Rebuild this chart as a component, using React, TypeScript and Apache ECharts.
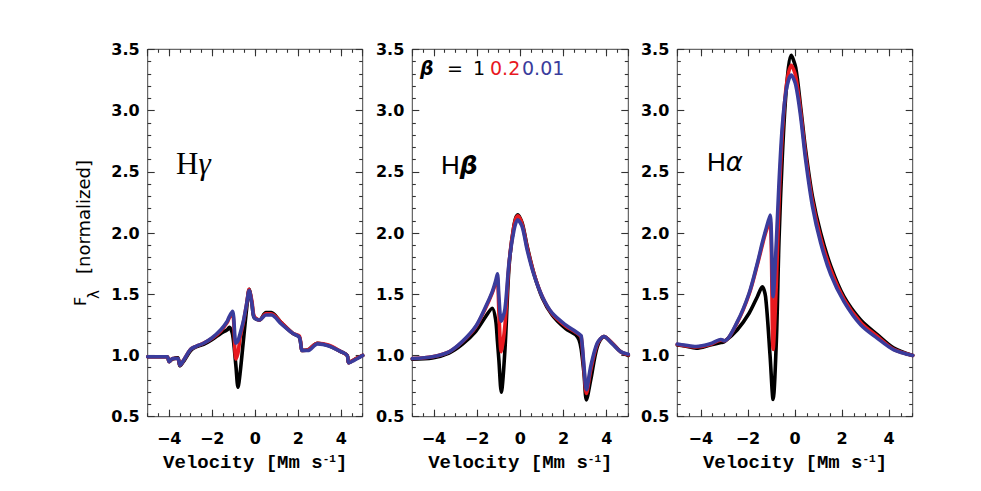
import React, { useEffect, useRef } from 'react';
import * as echarts from 'echarts';

// ---- H gamma ----
const hgVel = [-5, -4.1, -4.0, -3.85, -3.6, -3.5, -3.3, -3.0, -2.75, -2.4, -2.0, -1.6, -1.3, -1.2, -1.05, -0.9, -0.8, -0.7, -0.55, -0.4, -0.28, -0.15, -0.05, 0.2, 0.5, 0.75, 1.2, 1.75, 2.05, 2.2, 2.45, 2.9, 3.4, 4.0, 4.28, 4.35, 4.6, 5.0];
const hgBeta1 = [0.99, 0.99, 0.95, 0.97, 0.98, 0.915, 0.96, 1.04, 1.07, 1.09, 1.13, 1.18, 1.21, 1.23, 1.17, 0.92, 0.74, 0.86, 1.12, 1.38, 1.54, 1.42, 1.31, 1.29, 1.35, 1.35, 1.27, 1.18, 1.15, 1.04, 1.045, 1.10, 1.08, 1.03, 1.0, 0.94, 0.965, 1.0];
const hgBeta02 = [0.99, 0.99, 0.95, 0.975, 0.975, 0.92, 0.97, 1.05, 1.075, 1.10, 1.14, 1.20, 1.27, 1.31, 1.34, 0.97, 1.02, 1.15, 1.27, 1.42, 1.54, 1.44, 1.32, 1.29, 1.34, 1.34, 1.27, 1.18, 1.16, 1.04, 1.045, 1.10, 1.085, 1.03, 1.0, 0.94, 0.965, 1.0];
const hgBeta001 = [0.99, 0.99, 0.95, 0.975, 0.975, 0.92, 0.97, 1.05, 1.075, 1.10, 1.145, 1.21, 1.28, 1.32, 1.36, 1.10, 1.12, 1.18, 1.28, 1.42, 1.53, 1.42, 1.31, 1.29, 1.33, 1.33, 1.26, 1.18, 1.15, 1.04, 1.04, 1.095, 1.08, 1.03, 1.0, 0.94, 0.96, 1.0];

// ---- H beta ----
const hbVel = [-5, -4.07, -3.3, -2.69, -2.07, -1.6, -1.3, -1.14, -1.06, -0.99, -0.88, -0.71, -0.52, -0.29, -0.12, 0.09, 0.32, 0.63, 1.02, 1.48, 2.1, 2.56, 2.72, 2.82, 2.95, 3.06, 3.26, 3.56, 3.87, 4.26, 4.65, 5.0];
const hbBeta1 = [0.97, 0.98, 1.02, 1.09, 1.195, 1.318, 1.386, 1.29, 1.12, 0.96, 0.70, 1.05, 1.726, 2.066, 2.148, 2.08, 1.89, 1.67, 1.47, 1.33, 1.22, 1.17, 1.127, 1.05, 0.85, 0.637, 0.80, 1.07, 1.154, 1.10, 1.03, 1.0];
const hbBeta02 = [0.975, 0.99, 1.03, 1.11, 1.23, 1.39, 1.51, 1.59, 1.64, 1.35, 1.03, 1.25, 1.75, 2.06, 2.14, 2.07, 1.88, 1.67, 1.48, 1.34, 1.24, 1.19, 1.17, 1.15, 0.88, 0.69, 0.88, 1.09, 1.155, 1.10, 1.03, 1.005];
const hbBeta001 = [0.975, 0.99, 1.03, 1.113, 1.236, 1.40, 1.52, 1.61, 1.666, 1.48, 1.28, 1.38, 1.76, 2.025, 2.107, 2.05, 1.86, 1.66, 1.48, 1.345, 1.25, 1.195, 1.175, 1.16, 0.91, 0.72, 0.91, 1.10, 1.155, 1.095, 1.03, 1.01];

// ---- H alpha ----
const haVel = [-5, -4.7, -4.2, -3.6, -3.15, -3.0, -2.45, -1.95, -1.6, -1.39, -1.25, -1.06, -0.93, -0.79, -0.68, -0.54, -0.37, -0.16, 0.03, 0.24, 0.45, 0.74, 1.09, 1.52, 2.08, 2.79, 3.5, 4.2, 5.0];
const haBeta1 = [1.086, 1.078, 1.06, 1.085, 1.105, 1.113, 1.21, 1.345, 1.48, 1.56, 1.48, 1.0, 0.64, 1.13, 1.94, 2.62, 3.17, 3.45, 3.35, 3.03, 2.68, 2.30, 2.0, 1.73, 1.48, 1.29, 1.17, 1.06, 1.0];
const haBeta02 = [1.09, 1.08, 1.07, 1.09, 1.125, 1.12, 1.27, 1.50, 1.74, 1.90, 2.0, 2.10, 1.05, 1.6, 2.25, 2.8, 3.2, 3.37, 3.28, 2.99, 2.64, 2.26, 1.96, 1.70, 1.46, 1.27, 1.155, 1.05, 1.0];
const haBeta001 = [1.094, 1.085, 1.073, 1.095, 1.13, 1.12, 1.276, 1.508, 1.753, 1.92, 2.02, 2.147, 1.48, 1.94, 2.41, 2.87, 3.17, 3.29, 3.21, 2.95, 2.60, 2.22, 1.92, 1.66, 1.44, 1.25, 1.14, 1.045, 1.0];

const velRange = [-5, 5];
const fluxRange = [0.5, 3.5];
const lineNames = ['β = 1', 'β = 0.2', 'β = 0.01'];
const lineColors = ['#000000', '#e8191f', '#3a3c9c'];

const panels = [
  { vel: hgVel, lines: [hgBeta1, hgBeta02, hgBeta001], left: 147.7, width: 215 },
  { vel: hbVel, lines: [hbBeta1, hbBeta02, hbBeta001], left: 412.3, width: 216 },
  { vel: haVel, lines: [haBeta1, haBeta02, haBeta001], left: 677.3, width: 235.4 },
];

const TOP = 49.3;
const HEIGHT = 367.4;
const TICK_COLOR = '#333';
const NUM_FONT = 'DejaVu Sans';

function buildOption() {
  const grid: any[] = [];
  const xAxis: any[] = [];
  const yAxis: any[] = [];
  const series: any[] = [];
  const graphic: any[] = [];

  const tickStyle = { color: TICK_COLOR, width: 1.1 };

  panels.forEach((p, i) => {
    grid.push({
      left: p.left, top: TOP, width: p.width, height: HEIGHT,
      show: true, borderColor: '#444', borderWidth: 1, backgroundColor: 'transparent',
    });
    const baseX = {
      gridIndex: i, type: 'value', min: velRange[0], max: velRange[1],
      axisLine: { show: false, onZero: false }, splitLine: { show: false },
    };
    xAxis.push({
      ...baseX, position: 'bottom', splitNumber: 5,
      axisTick: { show: true, inside: true, length: 7, lineStyle: tickStyle },
      axisLabel: {
        show: true, showMinLabel: false, showMaxLabel: false, margin: 14,
        fontFamily: NUM_FONT, fontSize: 16, fontWeight: 'bold', color: '#000',
        formatter: (v: number) => String(v).replace('-', '\u2212'),
      },
    });
    xAxis.push({
      ...baseX, position: 'bottom', interval: 0.5,
      axisTick: { show: true, inside: true, length: 3.5, lineStyle: tickStyle },
      axisLabel: { show: false },
    });
    xAxis.push({
      ...baseX, position: 'top', splitNumber: 5,
      axisTick: { show: true, inside: true, length: 7, lineStyle: tickStyle },
      axisLabel: { show: false },
    });
    xAxis.push({
      ...baseX, position: 'top', interval: 0.5,
      axisTick: { show: true, inside: true, length: 3.5, lineStyle: tickStyle },
      axisLabel: { show: false },
    });
    const baseY = {
      gridIndex: i, type: 'value', min: fluxRange[0], max: fluxRange[1], interval: 0.5,
      axisLine: { show: false, onZero: false }, splitLine: { show: false },
      axisTick: { show: true, inside: true, length: 7, lineStyle: tickStyle },
      minorTick: { show: true, splitNumber: 5, length: 3.5, lineStyle: tickStyle },
    };
    yAxis.push({
      ...baseY, position: 'left',
      axisLabel: {
        show: true, margin: 8, fontFamily: NUM_FONT, fontSize: 16, fontWeight: 'bold', color: '#000',
        formatter: (v: number) => v.toFixed(1),
      },
    });
    yAxis.push({ ...baseY, position: 'right', axisLabel: { show: false } });

    p.lines.forEach((vals, k) => {
      series.push({
        type: 'line', name: lineNames[k], xAxisIndex: 4 * i, yAxisIndex: 2 * i,
        data: p.vel.map((v, j) => [v, vals[j]]),
        showSymbol: false, symbol: 'none', smooth: 0.3,
        lineStyle: { width: 3.6, color: lineColors[k], join: 'round', cap: 'round' },
        itemStyle: { color: lineColors[k] },
        z: 2 + k,
      });
    });

    graphic.push({
      type: 'text', x: p.left + p.width / 2, y: 463,
      style: {
        text: '{m|Velocity [Mm s}{s|-1}{m|]}',
        rich: {
          m: { fontFamily: 'Liberation Mono', fontSize: 19, fontWeight: 'bold', fill: '#000', verticalAlign: 'middle' },
          s: { fontFamily: 'Liberation Mono', fontSize: 11, fontWeight: 'bold', fill: '#000', verticalAlign: 'top' },
        },
        align: 'center', verticalAlign: 'middle', textAlign: 'center', textVerticalAlign: 'middle',
      },
    });
  });

  const rot = Math.PI / 2;
  graphic.push({
    type: 'text', x: 83, y: 217, rotation: rot,
    style: { text: '[normalized]', fontFamily: 'DejaVu Sans', fontSize: 18, fill: '#000', align: 'center', verticalAlign: 'middle', textAlign: 'center', textVerticalAlign: 'middle' },
  });
  graphic.push({
    type: 'text', x: 80.5, y: 301.5, rotation: rot,
    style: { text: 'F', fontFamily: 'DejaVu Sans', fontSize: 16, fill: '#000', align: 'center', verticalAlign: 'middle', textAlign: 'center', textVerticalAlign: 'middle' },
  });
  graphic.push({
    type: 'text', x: 93.5, y: 294.5, rotation: rot,
    style: { text: 'λ', fontFamily: 'DejaVu Sans', fontSize: 15, fill: '#000', align: 'center', verticalAlign: 'middle', textAlign: 'center', textVerticalAlign: 'middle' },
  });

  graphic.push({
    type: 'text', x: 176, y: 163,
    style: {
      text: '{h|H}{g|γ}',
      rich: {
        h: { fontFamily: 'Liberation Serif', fontSize: 31, fill: '#000' },
        g: { fontFamily: 'Liberation Serif', fontSize: 31, fontStyle: 'italic', fill: '#000' },
      },
      align: 'left', verticalAlign: 'middle', textAlign: 'left', textVerticalAlign: 'middle',
    },
  });
  graphic.push({
    type: 'text', x: 441, y: 165,
    style: {
      text: '{h|H}{g|β}',
      rich: {
        h: { fontFamily: 'Liberation Sans', fontSize: 26, fill: '#000' },
        g: { fontFamily: 'DejaVu Sans', fontSize: 25, fontStyle: 'italic', fontWeight: 'bold', fill: '#000' },
      },
      align: 'left', verticalAlign: 'middle', textAlign: 'left', textVerticalAlign: 'middle',
    },
  });
  graphic.push({
    type: 'text', x: 707, y: 162,
    style: {
      text: '{h|H}{g|α}',
      rich: {
        h: { fontFamily: 'Liberation Sans', fontSize: 26, fill: '#000' },
        g: { fontFamily: 'DejaVu Sans', fontSize: 26, fontStyle: 'italic', fill: '#000' },
      },
      align: 'left', verticalAlign: 'middle', textAlign: 'left', textVerticalAlign: 'middle',
    },
  });

  const legendPieces = [
    { t: 'β', x: 420, c: '#000', bold: true },
    { t: '=', x: 447, c: '#000', bold: false },
    { t: '1', x: 473, c: '#000', bold: false },
    { t: '0.2', x: 490, c: lineColors[1], bold: false },
    { t: '0.01', x: 522, c: lineColors[2], bold: false },
  ];
  legendPieces.forEach((lp) => {
    graphic.push({
      type: 'text', x: lp.x, y: 68,
      style: {
        text: lp.t, fontFamily: 'DejaVu Sans', fontSize: 19, fill: lp.c,
        fontWeight: lp.bold ? 'bold' : 'normal', fontStyle: lp.bold ? 'italic' : 'normal',
        align: 'left', verticalAlign: 'middle', textAlign: 'left', textVerticalAlign: 'middle',
      },
    });
  });

  return {
    animation: false,
    backgroundColor: '#ffffff',
    grid, xAxis, yAxis, series, graphic,
  };
}

export default function App() {
  const ref = useRef<HTMLDivElement>(null);
  useEffect(() => {
    if (!ref.current) return;
    const chart = echarts.init(ref.current, undefined, { renderer: 'svg' });
    chart.setOption(buildOption() as any);
    return () => chart.dispose();
  }, []);
  return (
    <div
      ref={ref}
      style={{ position: 'fixed', left: 0, top: 0, width: 981, height: 491, background: '#fff' }}
    />
  );
}
